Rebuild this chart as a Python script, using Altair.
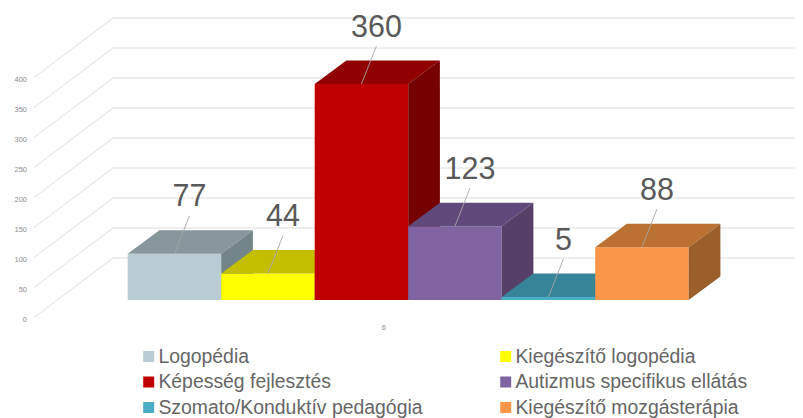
import altair as alt
import pandas as pd

names = ["Logopédia", "Kiegészítő logopédia", "Képesség fejlesztés",
         "Autizmus specifikus ellátás", "Szomato/Konduktív pedagógia", "Kiegészítő mozgásterápia"]
values = [77, 44, 360, 123, 5, 88]
front_colors = ["#B9CCD4", "#FFFF00", "#C00000", "#8064A2", "#4BACC6", "#FB9648"]
top_colors = ["#88979C", "#C4BE00", "#900000", "#604A7B", "#378398", "#BA7132"]
side_colors = ["#74858A", "#A8A300", "#750000", "#564067", "#2F7385", "#9B5F2B"]
axis_ticks = [0, 50, 100, 150, 200, 250, 300, 350, 400]
category_label = "6"

# layout (pixels within the chart area)
W, H = 787, 410
PX_SLOT = 93.5
PX_UNIT = 0.6
X0, Y0 = 119.7, 292.0

def xs(px):
    return (px - X0) / PX_SLOT

def ys(py):
    return (Y0 - py) / PX_UNIT

DEPTH_X = 31.7 / PX_SLOT
DEPTH_Y = 23.5 / PX_UNIT
x_scale = alt.Scale(domain=[xs(0), xs(W)], nice=False, zero=False)
y_scale = alt.Scale(domain=[ys(H), ys(0)], nice=False, zero=False)
X = alt.X("x:Q", scale=x_scale, axis=None)
Y = alt.Y("y:Q", scale=y_scale, axis=None)
color = alt.Color(
    "name:N",
    scale=alt.Scale(domain=names, range=front_colors),
    legend=alt.Legend(
        title=None, orient="none", legendX=131, legendY=339, columns=2, direction="horizontal",
        symbolType="square", symbolSize=121, symbolStrokeWidth=0, symbolOpacity=1,
        labelFont="Liberation Sans", labelFontSize=19.4, labelColor="#666666", labelOffset=0,
        labelLimit=400, columnPadding=73, rowPadding=5.5, padding=0, labelOverlap=False, clipHeight=19,
    ),
)

# grid
grid_rows = []
for t in axis_ticks:
    grid_rows.append({"t": t, "k": 0, "x": xs(26), "y": t - 29})
    grid_rows.append({"t": t, "k": 1, "x": xs(105), "y": t + 70})
    grid_rows.append({"t": t, "k": 2, "x": xs(W), "y": t + 70})
grid = alt.Chart(pd.DataFrame(grid_rows)).mark_line(color="#E9E9E9", strokeWidth=1.3).encode(
    x=X, y=Y, detail="t:N", order="k:Q"
)

tick_df = pd.DataFrame({"label": [str(t) for t in axis_ticks],
                        "x": [xs(19)] * len(axis_ticks),
                        "y": [t - 33 for t in axis_ticks]})
tick_labels = alt.Chart(tick_df).mark_text(
    align="right", baseline="middle", font="Liberation Sans", fontSize=7.5, color="#8C8C8C"
).encode(x=X, y=Y, text="label:N")

layers = [grid, tick_labels]

# 3D bars, painted left to right
for i, (n, v) in enumerate(zip(names, values)):
    front = pd.DataFrame([{"name": n, "x": i, "x2": i + 1, "y": 0, "y2": v}])
    layers.append(alt.Chart(front).mark_rect().encode(x=X, x2="x2:Q", y=Y, y2="y2:Q", color=color))
    top = pd.DataFrame([
        {"y": v, "x": i, "x2": i + 1},
        {"y": v + DEPTH_Y, "x": i + DEPTH_X, "x2": i + 1 + DEPTH_X},
    ])
    layers.append(alt.Chart(top).mark_area(orient="horizontal", color=top_colors[i]).encode(
        x=alt.X("x:Q", scale=x_scale, axis=None, stack=None), x2="x2:Q", y=Y))
    side = pd.DataFrame([
        {"x": i + 1, "y": 0, "y2": v},
        {"x": i + 1 + DEPTH_X, "y": DEPTH_Y, "y2": v + DEPTH_Y},
    ])
    layers.append(alt.Chart(side).mark_area(orient="vertical", color=side_colors[i]).encode(
        x=X, y=alt.Y("y:Q", scale=y_scale, axis=None, stack=None), y2="y2:Q"))

# leaders and data labels
LEADER_DX = 15 / PX_SLOT
LEADER_DY = 38 / PX_UNIT
LABEL_DY = 56.5 / PX_UNIT
rows = [{"label": str(v), "x": i + 0.5, "x2": i + 0.5 + LEADER_DX,
         "y": v, "y2": v + LEADER_DY, "ly": v + LABEL_DY}
        for i, v in enumerate(values)]
df = pd.DataFrame(rows)
leaders = alt.Chart(df).mark_rule(color="#A6A6A6", strokeWidth=0.9).encode(x=X, x2="x2:Q", y=Y, y2="y2:Q")
labels = alt.Chart(df).mark_text(
    align="center", baseline="middle", font="Liberation Sans", fontSize=30.5, color="#595959"
).encode(x=alt.X("x2:Q", scale=x_scale, axis=None), y=alt.Y("ly:Q", scale=y_scale, axis=None), text="label:N")
cat = alt.Chart(pd.DataFrame({"label": [category_label], "x": [2.74], "y": [ys(320)]})).mark_text(
    align="center", baseline="middle", font="Liberation Sans", fontSize=7.5, color="#8C8C8C"
).encode(x=X, y=Y, text="label:N")

chart = alt.layer(*layers, leaders, labels, cat).properties(
    width=W, height=H, padding=0, autosize=alt.AutoSizeParams(type="none"), background="white"
).configure_view(stroke=None)

chart.save("out.html", embed_options={"renderer": "svg", "actions": False})
